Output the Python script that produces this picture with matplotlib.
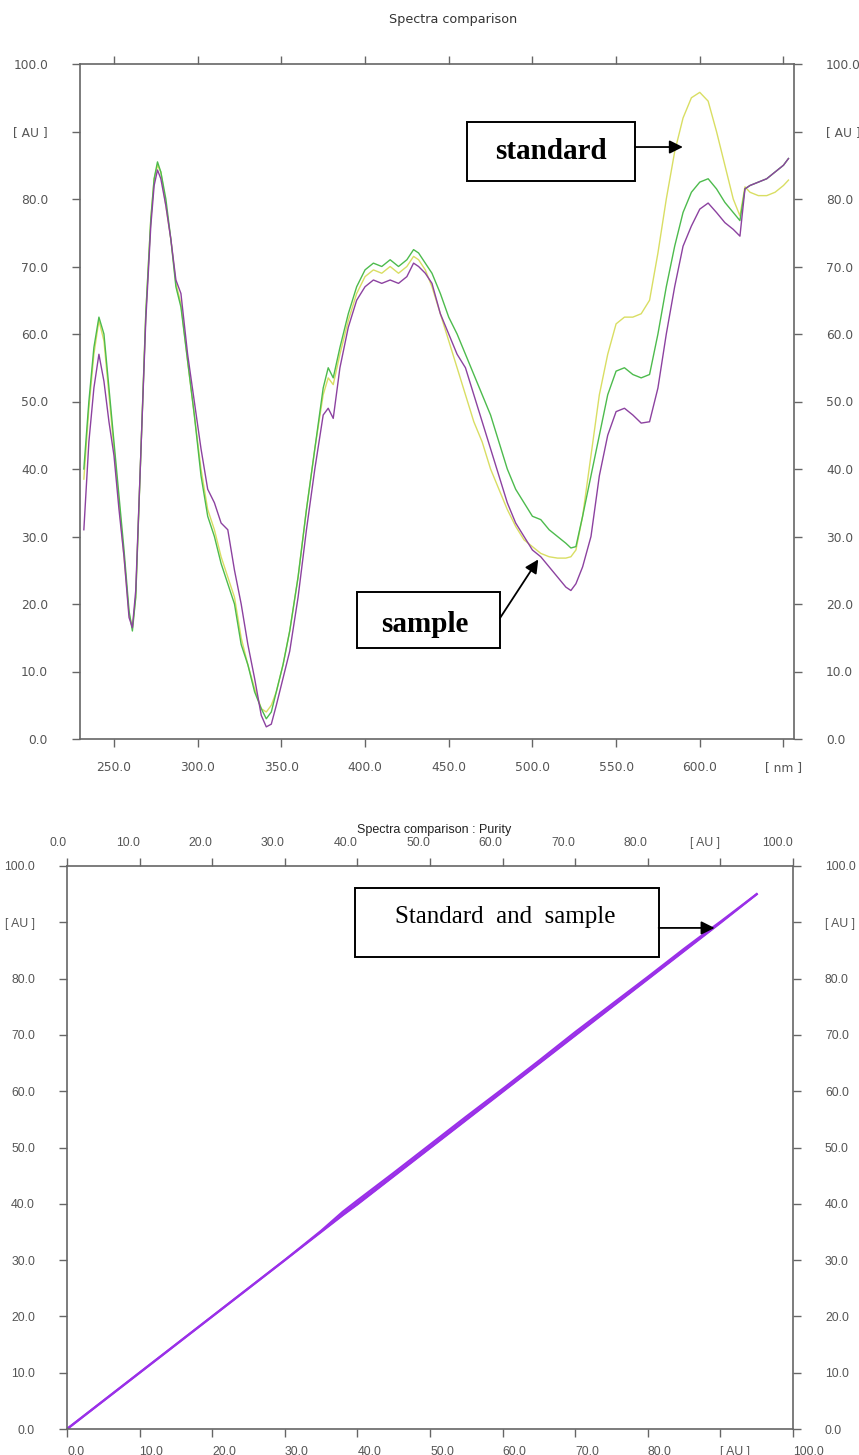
import matplotlib
matplotlib.use('Agg')
import matplotlib.pyplot as plt
from matplotlib.patches import Rectangle

# wavelength grid [nm]
wavelength = [232, 235, 238, 241, 244, 247, 250, 253, 256, 259, 261, 263, 266, 269, 272, 274,
              276, 278, 281, 284, 287, 290, 294, 298, 302, 306, 310, 314, 318, 322, 326, 330,
              334, 338, 341, 344, 347, 351, 355, 360, 365, 370, 375, 378, 381, 385, 390, 395,
              400, 405, 410, 415, 420, 425, 429, 432, 436, 440, 445, 450, 455, 460, 465, 470,
              475, 480, 485, 490, 495, 500, 505, 510, 515, 520, 523, 526, 530, 535, 540, 545,
              550, 555, 560, 565, 570, 575, 580, 585, 590, 595, 600, 605, 610, 615, 620, 624,
              627, 630, 635, 640, 645, 650, 653]

standard = [38.5, 49, 57, 62, 59, 51, 43, 35, 27, 18.5, 16.5, 21, 42, 63, 77, 83,
            85, 84, 79, 74, 67.5, 64.5, 56, 48, 40, 34, 31, 27, 24, 21, 15, 11,
            7.5, 4.5, 4, 5, 7, 11, 16, 24, 34, 43, 51, 53.5, 52.5, 57, 62, 66,
            68.5, 69.5, 69, 70, 69, 70, 71.5, 71, 69.5, 67, 63, 59, 55, 51, 47, 44,
            40, 37, 34, 31.5, 29.5, 28.5, 27.5, 27, 26.8, 26.8, 27, 28, 33, 42, 51, 57,
            61.5, 62.5, 62.5, 63, 65, 72, 80, 87, 92, 95, 95.8, 94.5, 90, 85, 80, 77.5,
            81.8, 81, 80.5, 80.5, 81, 82, 82.8]

green = [40, 50, 58, 62.5, 60, 52, 44, 36, 28, 19, 16, 21, 42, 63, 77, 83,
         85.5, 84, 80, 74, 67, 64, 56, 48, 39, 33, 30, 26, 23, 20, 14, 11,
         7, 4.5, 3, 4, 7, 11, 16, 24, 34, 43, 52, 55, 53.5, 58, 63, 67,
         69.5, 70.5, 70, 71, 70, 71, 72.5, 72, 70.5, 69, 66, 62.5, 60, 57, 54, 51,
         48, 44, 40, 37, 35, 33, 32.5, 31, 30, 29, 28.3, 28.5, 33, 39, 45, 51,
         54.5, 55, 54, 53.5, 54, 60, 67, 73, 78, 81, 82.5, 83, 81.5, 79.5, 78, 76.8,
         81.5, 82, 82.5, 83, 84, 85, 86]

sample = [31, 44, 52, 57, 53, 47, 42, 34, 27, 18, 16.5, 22, 42, 62, 76, 82,
          84.3, 83, 79, 74, 68, 66, 57, 50, 43, 37, 35, 32, 31, 25, 20, 14,
          9, 3.5, 1.8, 2.2, 5, 9, 13, 21, 31, 40, 48, 49, 47.5, 55, 61, 65,
          67, 68, 67.5, 68, 67.5, 68.5, 70.5, 70, 69, 67.5, 63, 60, 57, 55, 51, 47,
          43, 39, 35, 32, 30, 28, 27, 25.5, 24, 22.5, 22, 23, 25.5, 30, 39, 45,
          48.5, 49, 48, 46.8, 47, 52, 60, 67, 73, 76, 78.5, 79.4, 78, 76.5, 75.5, 74.5,
          81.5, 82, 82.5, 83, 84, 85, 86]

# purity plot: standard vs sample [AU]
purity_x = [0, 5, 10, 15, 20, 25, 30, 35, 38, 40, 45, 50, 55, 60, 65, 70, 75, 80, 85, 88, 90, 95]
purity_y1 = [0, 5, 10, 15, 20, 25, 30, 35.2, 38.6, 40.6, 45.5, 50.5, 55.5, 60.4, 65.4, 70.5, 75.4, 80.3, 85.3, 88.2, 90.1, 95]
purity_y2 = [0, 5, 10, 15, 20, 25, 30, 35, 38, 39.9, 44.9, 49.9, 54.9, 59.9, 64.9, 69.9, 74.9, 79.9, 84.9, 87.9, 89.9, 95]

y_ticks = [0, 10, 20, 30, 40, 50, 60, 70, 80, 90, 100]
y_labels = ['0.0', '10.0', '20.0', '30.0', '40.0', '50.0', '60.0', '70.0', '80.0', '[ AU ]', '100.0']
nm_ticks = [250, 300, 350, 400, 450, 500, 550, 600, 650]
nm_labels = ['250.0', '300.0', '350.0', '400.0', '450.0', '500.0', '550.0', '600.0', '[ nm ]']
au_ticks = [0, 10, 20, 30, 40, 50, 60, 70, 80, 90, 100]
au_labels = ['0.0', '10.0', '20.0', '30.0', '40.0', '50.0', '60.0', '70.0', '80.0', '[ AU ]', '100.0']

W, H = 859, 1455
AXC = '#666666'
TXT = '#555555'


def px_axes(fig, x0, y0, x1, y1):
    return fig.add_axes([x0 / W, 1 - y1 / H, (x1 - x0) / W, (y1 - y0) / H])


def style(ax):
    for s in ax.spines.values():
        s.set_color(AXC)
        s.set_linewidth(1.2)
    ax.tick_params(which='both', direction='out', length=6, width=1, color=AXC)


def label_font(ticks, family, size):
    for t in ticks:
        for lab in (t.label1, t.label2):
            lab.set_fontfamily(family)
            lab.set_fontsize(size)
            lab.set_color(TXT)


fig = plt.figure(figsize=(W / 100, H / 100), dpi=100)
fig.patch.set_facecolor('white')

# ---- top panel: spectra comparison
ax1 = px_axes(fig, 80, 64, 794, 739)
style(ax1)
ax1.plot(wavelength, standard, color='#d9de63', lw=1.0)
ax1.plot(wavelength, green, color='#4dbb4d', lw=1.0)
ax1.plot(wavelength, sample, color='#8c42a0', lw=1.0)
ax1.set_xlim(229.7, 656.3)
ax1.set_ylim(0, 100)
ax1.set_yticks(y_ticks)
ax1.set_yticklabels(y_labels)
ax1.set_xticks(nm_ticks)
ax1.set_xticklabels(nm_labels)
ax1.tick_params(axis='y', left=True, right=True, labelleft=True, labelright=True, pad=17)
ax1.tick_params(axis='x', top=True, bottom=True, labeltop=False, pad=10)
label_font(ax1.xaxis.get_major_ticks() + ax1.yaxis.get_major_ticks(), 'DejaVu Sans', 8.8)
fig.text(453 / W, 1 - 20 / H, 'Spectra comparison', ha='center', va='center',
         fontsize=9.2, color='#333333', family='DejaVu Sans')

# annotation boxes
ax1.add_patch(Rectangle((460.9, 82.7), 100.3, 8.7, fill=False, ec='black', lw=1.4, clip_on=False, zorder=5))
ax1.text(511, 87.0, 'standard', ha='center', va='center', fontsize=21, fontweight='bold',
         family='Liberation Serif', zorder=6)
ax1.annotate('', xy=(589.9, 87.7), xytext=(561.2, 87.7),
             arrowprops=dict(arrowstyle='-|>', color='black', lw=1.3, mutation_scale=20,
                             shrinkA=0, shrinkB=0))
ax1.add_patch(Rectangle((395.2, 13.5), 85.4, 8.3, fill=False, ec='black', lw=1.4, clip_on=False, zorder=5))
ax1.text(436, 17.0, 'sample', ha='center', va='center', fontsize=21, fontweight='bold',
         family='Liberation Serif', zorder=6)
ax1.annotate('', xy=(503.5, 26.6), xytext=(480.6, 17.9),
             arrowprops=dict(arrowstyle='-|>', color='black', lw=1.3, mutation_scale=20,
                             shrinkA=0, shrinkB=0))

# ---- bottom panel: purity
ax2 = px_axes(fig, 67, 866, 793, 1429)
style(ax2)
ax2.fill_between(purity_x, purity_y2, purity_y1, color='#9a30e8', lw=0)
ax2.plot(purity_x, purity_y1, color='#9a30e8', lw=1.6)
ax2.plot(purity_x, purity_y2, color='#9a30e8', lw=1.6)
ax2.set_xlim(0, 100)
ax2.set_ylim(0, 100)
ax2.set_yticks(y_ticks)
ax2.set_yticklabels(y_labels)
ax2.set_xticks(au_ticks)
ax2.set_xticklabels(au_labels)
ax2.tick_params(axis='y', left=True, right=True, labelleft=True, labelright=True, pad=17)
ax2.tick_params(axis='x', top=True, bottom=True, labeltop=True, labelbottom=True, pad=6)
for t in ax2.xaxis.get_major_ticks():
    t.label1.set_horizontalalignment('left')
    t.label2.set_horizontalalignment('right')
label_font(ax2.xaxis.get_major_ticks() + ax2.yaxis.get_major_ticks(), 'Liberation Sans', 8.8)
fig.text(434 / W, 1 - 830 / H, 'Spectra comparison : Purity', ha='center', va='center',
         fontsize=9, color='#222222', family='Liberation Sans')

ax2.add_patch(Rectangle((39.7, 83.8), 41.8, 12.3, fill=False, ec='black', lw=1.4, clip_on=False, zorder=5))
ax2.text(60.4, 91.0, 'Standard  and  sample', ha='center', va='center', fontsize=18,
         family='Liberation Serif', zorder=6)
ax2.annotate('', xy=(89.2, 89.0), xytext=(81.5, 89.0),
             arrowprops=dict(arrowstyle='-|>', color='black', lw=1.3, mutation_scale=20,
                             shrinkA=0, shrinkB=0))

fig.savefig('out.png', dpi=100, facecolor='white')
